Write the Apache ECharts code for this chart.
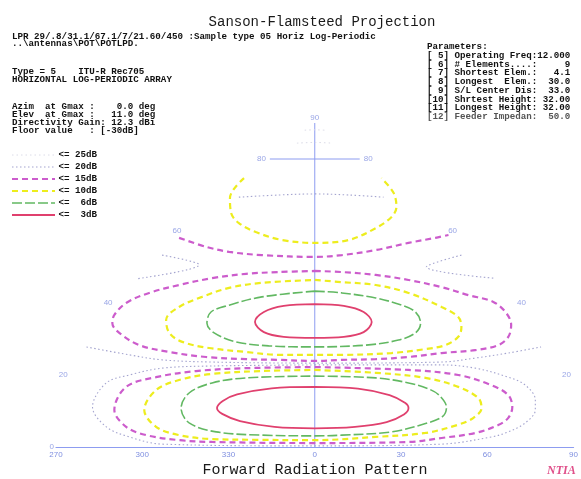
<!DOCTYPE html>
<html>
<head>
<meta charset="utf-8">
<script src="https://cdn.jsdelivr.net/npm/echarts@6/dist/echarts.min.js"></script>
<style>
  html, body { margin: 0; padding: 0; background: #ffffff; }
  #chart { width: 581px; height: 479px; }
</style>
</head>
<body>
<div id="chart"></div>
<script>
// Azimuth ticks along the equator (projected degrees) and their printed labels
const azimuthTicks  = [-90, -60, -30, 0, 30, 60, 90];
const azimuthLabels = ['270', '300', '330', '0', '30', '60', '90'];
// Elevation parallels labelled at the edge of the projection
const elevationTicks = [20, 40, 60, 80];

// Contour paths, [projected azimuth deg, elevation deg]
// 3 dB
const db3Upper = [[0,39.7],[10.1,39.2],[17.0,37.5],[19.8,34.7],[17.0,31.9],[10.1,30.6],[0,30.3],[-10.8,30.6],[-17.7,31.9],[-20.8,34.7],[-17.7,37.5],[-10.8,39.2]];
const db3Lower = [[0,16.7],[15,16.2],[26,14.4],[31.5,12.2],[32.6,10.8],[31,9.0],[25,6.9],[14,5.6],[0,5.2],[-14,5.6],[-26,7.2],[-32.2,9.2],[-34,10.8],[-32,12.8],[-27,14.6],[-15,16.3]];
// 6 dB
const db6Upper = [[0,43.3],[9.4,42.8],[21.2,41.4],[30.2,39.4],[35.0,37.5],[36.8,34.4],[35.0,31.7],[29.1,29.7],[17.7,28.3],[0,27.8],[-16.0,28.1],[-27.4,29.2],[-35.0,31.7],[-37.5,34.4],[-36.1,37.5],[-29.8,39.4],[-18.4,41.7]];
const db6Lower = [[0,19.7],[21.2,19.2],[32.6,17.8],[40,16.0],[43.5,14.2],[45.8,11.0],[44.5,8.5],[38.5,6.5],[26.7,4.2],[9.4,3.3],[0,3.1],[-18.4,3.3],[-34.3,4.2],[-43.7,6.7],[-46.5,10.8],[-43.7,15.0],[-35.7,17.8],[-23.9,19.2]];
// 10 dB
const db10Cap   = [[-24.6,74.7],[-29.5,69.2],[-29.1,65.0],[-26.4,62.2],[-20.5,59.7],[-11.4,57.5],[0,56.7],[11.8,57.5],[21.2,60.8],[26.7,63.9],[28.4,66.7],[27.4,70.6],[23.2,74.7]];
const db10Upper = [[0,46.4],[9.4,45.8],[21.2,45.0],[32.6,42.8],[44.1,38.9],[49.9,36.1],[51.0,33.3],[49.9,30.6],[45.4,28.3],[38.5,27.2],[26.7,26.1],[9.4,25.6],[0,25.6],[-12.5,25.6],[-23.9,26.4],[-36.8,27.5],[-46.1,29.2],[-50.6,31.7],[-51.7,35.3],[-47.2,38.9],[-39.2,41.7],[-29.8,44.2],[-18.4,45.6]];
const db10Lower = [[0,21.4],[21.2,20.6],[38.5,19.2],[49.9,16.7],[56.9,13.6],[58,10.8],[55.2,8.1],[49.9,6.2],[38.5,3.9],[21.2,2.8],[0,1.9],[-20,2.0],[-35.7,2.2],[-47.2,3.3],[-55.2,5.6],[-59.3,10.3],[-55.2,15.8],[-47.2,18.6],[-35.7,20.3],[-18.4,21.1]];
// 15 dB
const db15Arc   = [[-47.2,58.1],[-37.8,55.6],[-29.8,54.2],[-18.4,53.3],[0,52.8],[9.4,53.3],[21.2,54.7],[32.6,56.7],[42.0,58.1],[46.5,58.9]];
const db15Upper = [[0,48.9],[9.4,48.6],[21.2,47.8],[32.6,46.4],[44.1,44.4],[53.4,42.2],[62.1,40.3],[66.6,37.2],[68.3,33.9],[67.3,30.6],[63.8,28.3],[55.8,26.9],[44.1,26.1],[32.6,25.0],[21.2,24.4],[9.4,24.2],[0,23.9],[-12.5,24.2],[-23.9,24.4],[-37.8,25.0],[-50.6,26.4],[-61.0,28.3],[-68.0,31.7],[-70.4,34.4],[-69.7,36.7],[-65.6,40.0],[-57.6,42.8],[-47.2,45.0],[-35.7,46.9],[-23.9,48.1],[-12.5,48.6]];
const db15Lower = [[0,22.2],[32.6,21.4],[49.9,20.0],[61.4,17.2],[67.3,14.4],[68.7,11.1],[67.3,8.1],[63.8,6.1],[55.8,3.9],[44.1,2.5],[32.6,1.4],[0,1.1],[-35.7,1.4],[-47.2,1.9],[-58.6,3.3],[-65.6,5.6],[-69.7,10.3],[-65.6,16.7],[-55.2,19.4],[-41.3,21.1],[-23.9,21.9]];
// 20 dB
const db20Cap        = [[-26.4,69.4],[-12.5,70.0],[0,70.3],[11.8,70.0],[23.9,69.4]];
const db20TongueLeft = [[-53.1,53.3],[-40.2,50.6],[-62.1,46.7]];
const db20TongueRight= [[51.0,53.3],[38.8,50.0],[62.1,46.9]];
const db20Between    = [[-79.4,27.8],[-64.5,25.6],[-53.1,24.2],[-35.7,23.6],[0,23.3],[44.1,23.6],[55.8,24.7],[67.3,26.1],[78.7,27.8]];
const db20Lower      = [[0,22.8],[44.1,22.8],[55.8,21.9],[67.3,19.4],[73.2,17.2],[76.7,13.1],[76.7,10.3],[73.2,6.7],[67.3,4.2],[61.4,2.8],[44.1,0.8],[0,0.3],[-53.1,0.8],[-64.5,2.8],[-72.5,5.6],[-77.3,11.1],[-72.5,17.8],[-64.5,20.0],[-53.1,21.9],[-35.7,22.5]];
// 25 dB
const db25TopA = [[-6.2,84.4],[0,84.6],[6.2,84.4]];
const db25TopB = [[-3.5,88.0],[0,88.1],[3.5,88.0]];

// Line styles per level
const styles = {
  db25: { color: '#dcdce8', width: 1,   type: [1.5, 3] },
  db20: { color: '#a4a4cf', width: 1.1, type: [1.5, 2.5] },
  db15: { color: '#cc5ccc', width: 2.2, type: [6, 4] },
  db10: { color: '#eded1e', width: 2.2, type: [6, 4] },
  db6:  { color: '#62b862', width: 1.6, type: [10, 3] },
  db3:  { color: '#e0406e', width: 1.8, type: 'solid' }
};

const axisBlue = '#8d9cf0';
const labelBlue = '#7f8fe0';

function contour(pts, style, closed, z) {
  return {
    type: 'line',
    data: closed ? pts.concat([pts[0]]) : pts,
    smooth: 0.35,
    symbol: 'none',
    silent: true,
    z: z,
    lineStyle: { color: style.color, width: style.width, type: style.type }
  };
}

const rad = Math.PI / 180;
const edgeLabels = [];
elevationTicks.forEach(function (el) {
  const half = 90 * Math.cos(el * rad);
  edgeLabels.push({ value: [-half, el], label: { position: 'left' } });
  edgeLabels.push({ value: [half, el], label: { position: 'right' } });
});
edgeLabels.push({ value: [0, 90], label: { position: 'top', distance: 1 } });
edgeLabels.push({ value: [-90, 0], label: { position: 'left', distance: 2 } });

const half80 = 90 * Math.cos(80 * rad);

const mono = 'Liberation Mono';
const infoFont = 'bold 9.2px "' + mono + '"';
function txt(x, y, s, opts) {
  opts = opts || {};
  return {
    type: 'text', x: x, y: y, silent: true,
    style: {
      text: s,
      font: opts.font || infoFont,
      fill: opts.fill || '#111111',
      align: opts.align || 'left',
      verticalAlign: 'middle'
    }
  };
}

const infoLeft = [
  ['LPR 29/.8/31.1/67.1/7/21.60/450 :Sample type 05 Horiz Log-Periodic', 37],
  ['..\\antennas\\POT\\POTLPD.', 44],
  ['Type = 5    ITU-R Rec705', 72],
  ['HORIZONTAL LOG-PERIODIC ARRAY', 80],
  ['Azim  at Gmax :    0.0 deg', 107],
  ['Elev  at Gmax :   11.0 deg', 115],
  ['Directivity Gain: 12.3 dBi', 123],
  ['Floor value   : [-30dB]', 131]
];
const infoRight = [
  'Parameters:',
  '[ 5] Operating Freq:12.000',
  '[ 6] # Elements....:     9',
  '[ 7] Shortest Elem.:   4.1',
  '[ 8] Longest  Elem.:  30.0',
  '[ 9] S/L Center Dis:  33.0',
  '[10] Shrtest Height: 32.00',
  '[11] Longest Height: 32.00',
  '[12] Feeder Impedan:  50.0'
];

const legendRows = [
  ['<= 25dB', styles.db25],
  ['<= 20dB', styles.db20],
  ['<= 15dB', styles.db15],
  ['<= 10dB', styles.db10],
  ['<=  6dB', styles.db6],
  ['<=  3dB', styles.db3]
];

const graphics = [];
graphics.push(txt(322, 22, 'Sanson-Flamsteed Projection', { font: '14px "' + mono + '"', align: 'center', fill: '#1a1a1a' }));
graphics.push(txt(315, 470, 'Forward Radiation Pattern', { font: '15px "' + mono + '"', align: 'center', fill: '#1a1a1a' }));
graphics.push(txt(547, 471, 'NTIA', { font: 'italic bold 12px "Liberation Serif"', fill: '#e0508a' }));
infoLeft.forEach(function (row) { graphics.push(txt(12, row[1], row[0])); });
infoRight.forEach(function (s, i) {
  graphics.push(txt(427, i === 0 ? 47 : 47 + i * 8.7, s, i === 8 ? { fill: '#555555' } : {}));
});
legendRows.forEach(function (row, i) {
  const y = 155 + i * 12;
  const st = row[1];
  graphics.push({
    type: 'line', silent: true,
    shape: { x1: 12, y1: y, x2: 55, y2: y },
    style: { stroke: st.color, lineWidth: st.width, lineDash: st.type === 'solid' ? null : st.type }
  });
  graphics.push(txt(97, y, row[0], { align: 'right' }));
});

const series = [
  // graticule
  { type: 'line', data: [[0, 0], [0, 90]], symbol: 'none', silent: true, z: 1,
    lineStyle: { color: axisBlue, width: 1 } },
  { type: 'line', data: [[-half80, 80], [half80, 80]], symbol: 'none', silent: true, z: 1,
    lineStyle: { color: axisBlue, width: 1 } },
  // contours, faintest first
  contour(db25TopA, styles.db25, false, 2),
  contour(db25TopB, styles.db25, false, 2),
  contour(db20Cap, styles.db20, false, 3),
  contour(db20TongueLeft, styles.db20, false, 3),
  contour(db20TongueRight, styles.db20, false, 3),
  contour(db20Between, styles.db20, false, 3),
  contour(db20Lower, styles.db20, true, 3),
  contour(db15Arc, styles.db15, false, 4),
  contour(db15Upper, styles.db15, true, 4),
  contour(db15Lower, styles.db15, true, 4),
  contour(db10Cap, styles.db10, false, 5),
  contour(db10Upper, styles.db10, true, 5),
  contour(db10Lower, styles.db10, true, 5),
  contour(db6Upper, styles.db6, true, 6),
  contour(db6Lower, styles.db6, true, 6),
  contour(db3Upper, styles.db3, true, 7),
  contour(db3Lower, styles.db3, true, 7),
  // elevation labels on the projection edge
  { type: 'scatter', data: edgeLabels, symbolSize: 0, silent: true, z: 8,
    label: { show: true, distance: 4, color: labelBlue, fontSize: 8, fontFamily: 'Liberation Sans',
      formatter: function (p) { return String(p.value[1]); } } }
];

const chart = echarts.init(document.getElementById('chart'), null, { renderer: 'canvas' });
chart.setOption({
  animation: false,
  backgroundColor: '#ffffff',
  grid: { left: 56, right: 5, top: 123, bottom: 32 },
  xAxis: {
    type: 'value', min: -90, max: 90, interval: 30,
    axisLine: { show: true, onZero: false, lineStyle: { color: axisBlue, width: 1.2 } },
    axisTick: { show: false },
    splitLine: { show: false },
    axisLabel: { color: labelBlue, fontSize: 8, fontFamily: 'Liberation Sans', margin: 4,
      formatter: function (v) { const i = azimuthTicks.indexOf(v); return i >= 0 ? azimuthLabels[i] : ''; } }
  },
  yAxis: { type: 'value', min: 0, max: 90, show: false },
  graphic: graphics,
  series: series
});
</script>
</body>
</html>
